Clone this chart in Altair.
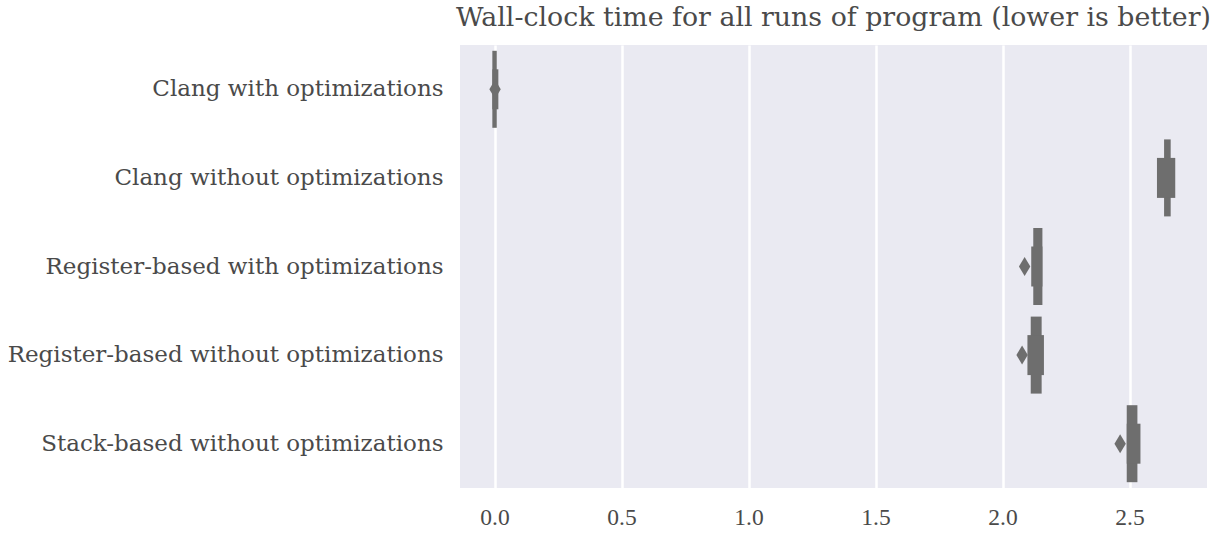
import altair as alt
import pandas as pd

categories = [
    "Clang with optimizations",
    "Clang without optimizations",
    "Register-based with optimizations",
    "Register-based without optimizations",
    "Stack-based without optimizations",
]
inner_low = [-0.0087, 2.636, 2.121, 2.111, 2.489]
inner_high = [0.0087, 2.662, 2.157, 2.154, 2.531]
outer_low = [-0.0087, 2.608, 2.113, 2.098, 2.489]
outer_high = [0.015, 2.680, 2.157, 2.163, 2.543]

outlier_cats = [categories[0], categories[2], categories[3], categories[4]]
outlier_vals = [0.002, 2.087, 2.077, 2.463]

x_ticks = [0.0, 0.5, 1.0, 1.5, 2.0, 2.5]

boxes = pd.DataFrame({
    "cat": categories,
    "il": inner_low, "ih": inner_high,
    "ol": outer_low, "oh": outer_high,
})
outl = pd.DataFrame({"cat": outlier_cats, "v": outlier_vals})

FONT = "DejaVu Serif"
TICKFONT = "Liberation Serif"
GRAY = "#6e6e6e"
TXT = "#4a4a4a"

xscale = alt.Scale(domain=[-0.136, 2.805], nice=False, zero=False)
yscale = alt.Scale(domain=categories, paddingInner=0, paddingOuter=0)

yenc = alt.Y("cat:N", scale=yscale, sort=categories, title=None,
             axis=alt.Axis(labelFontSize=23, labelFont=FONT, labelColor=TXT,
                           ticks=False, domain=False, grid=False, labelPadding=17,
                           labelLimit=600))

inner = alt.Chart(boxes).mark_bar(size=77, color=GRAY).encode(
    x=alt.X("il:Q", scale=xscale, title=None,
            axis=alt.Axis(values=x_ticks, format=".1f", labelFontSize=23.5, labelFont=TICKFONT,
                          labelColor=TXT, ticks=False, domain=False,
                          grid=True, gridColor="white", gridWidth=2.5, labelPadding=17)),
    x2="ih:Q",
    y=yenc,
)
outer = alt.Chart(boxes).mark_bar(size=40, color=GRAY).encode(
    x=alt.X("ol:Q", scale=xscale),
    x2="oh:Q",
    y=alt.Y("cat:N", scale=yscale, sort=categories),
)
pts = alt.Chart(outl).mark_point(
    shape="M0,-1L0.6,0L0,1L-0.6,0Z", filled=True, size=361, color=GRAY, opacity=1
).encode(
    x=alt.X("v:Q", scale=xscale),
    y=alt.Y("cat:N", scale=yscale, sort=categories),
)

chart = alt.layer(inner, outer, pts).properties(
    width=747, height=443,
    title=alt.TitleParams("Wall-clock time for all runs of program (lower is better)",
                          font=FONT, fontSize=26.8, fontWeight="normal", color=TXT,
                          anchor="middle", offset=13),
    background="white",
    padding={"left": 7, "top": 5, "right": 5, "bottom": 5},
).configure_view(fill="#EAEAF2", stroke=None)

chart.save("out.html", embed_options={"renderer": "svg", "actions": False})
